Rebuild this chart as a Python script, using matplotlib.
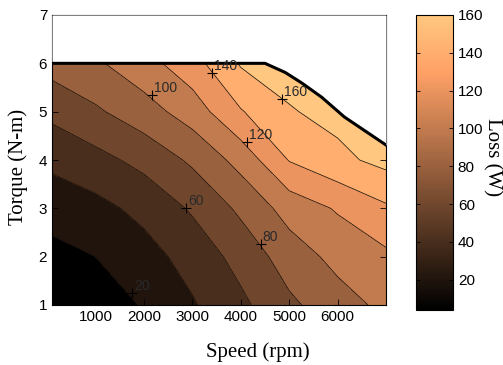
import numpy as np
import matplotlib
matplotlib.use("Agg")
import matplotlib.pyplot as plt
from matplotlib import cm, colors

# grid: speed (rpm) x torque (N-m) -> loss (W)
speed = [100, 1000, 2000, 3000, 4000, 5000, 6000, 7000]
torque = [1, 2, 3, 4, 5, 6]
loss = [
    [4, 9, 21.5, 38, 55.5, 76, 91.5, 105],
    [14, 20, 32.5, 47.5, 67, 89.5, 106, 116],
    [27.5, 34, 45.5, 62.5, 84, 108, 122, 137],
    [45, 53.5, 66, 83.5, 107, 141, 155, 166],
    [65, 77, 91.5, 109.5, 138.5, 158.5, 166, 170],
    [88, 97, 112.5, 132, 162, 168, 172, 175],
]
levels = [20, 40, 60, 80, 100, 120, 140, 160]

# max torque envelope
limit_speed = [100, 4500, 4920, 5265, 5670, 6140, 7000]
limit_torque = [6.0, 6.0, 5.81, 5.59, 5.30, 4.89, 4.31]

# where the contour labels sit
lab_value = [20, 60, 80, 100, 120, 140, 160]
lab_speed = [1750, 2866, 4412, 2165, 4124, 3402, 4845]
lab_torque = [1.25, 3.0, 2.26, 5.34, 4.37, 5.81, 5.26]

vmin, vmax = 4, 160
cmap = plt.get_cmap("copper")
norm = colors.Normalize(vmin, vmax)

fig = plt.figure(figsize=(5.03, 3.65), dpi=100)
ax = fig.add_axes([52/503, 60/365, 334/503, 290/365])

S, T = np.meshgrid(speed, torque)
Z = np.array(loss)
edges = [vmin - 10] + levels + [250]
fills = [cmap(norm(e)) for e in [vmin] + levels]
ax.contourf(S, T, Z, levels=edges, colors=fills, zorder=1)
ax.contour(S, T, Z, levels=levels, colors="#1a1008", linewidths=0.55, zorder=2)

ax.fill_between(limit_speed, limit_torque, 7, color="white", zorder=3, lw=0)
ax.plot(limit_speed, limit_torque, color="k", lw=2.2, zorder=4)

for v, x, y in zip(lab_value, lab_speed, lab_torque):
    ax.plot(x, y, marker="+", color="k", ms=7, mew=0.8, zorder=5)
    ax.annotate(str(v), (x, y), xytext=(1.5, 0), textcoords="offset points",
                ha="left", va="bottom", fontsize=10, color="#2a2a2a",
                family="Liberation Sans", zorder=5)

ax.set_xlim(100, 7000)
ax.set_ylim(1, 7)
ax.set_xticks([1000, 2000, 3000, 4000, 5000, 6000])
ax.set_yticks([1, 2, 3, 4, 5, 6, 7])
ax.tick_params(direction="in", top=True, right=True, length=4, width=0.6,
               labelsize=11)
for lbl in ax.get_xticklabels() + ax.get_yticklabels():
    lbl.set_family("Liberation Sans")
for sp in ax.spines.values():
    sp.set_linewidth(0.8)
ax.set_xlabel("Speed (rpm)", family="Liberation Serif", fontsize=15)
ax.set_ylabel("Torque (N-m)", family="Liberation Serif", fontsize=15)
ax.xaxis.set_label_coords(0.617, -0.128)
ax.yaxis.set_label_coords(-0.072, 0.476)

cax = fig.add_axes([416/503, 55/365, 37/503, 295/365])
cb = fig.colorbar(cm.ScalarMappable(norm=norm, cmap=cmap), cax=cax)
cb.set_ticks([20, 40, 60, 80, 100, 120, 140, 160])
cax.tick_params(direction="in", left=True, right=True, length=3, width=0.6,
                labelsize=11)
for lbl in cax.get_yticklabels():
    lbl.set_family("Liberation Sans")
cb.outline.set_linewidth(0.8)
fig.text(492/503, 0.57, "Loss (W)", family="Liberation Serif", fontsize=15,
         rotation=270, ha="center", va="center")

fig.savefig("out.png", dpi=100)
